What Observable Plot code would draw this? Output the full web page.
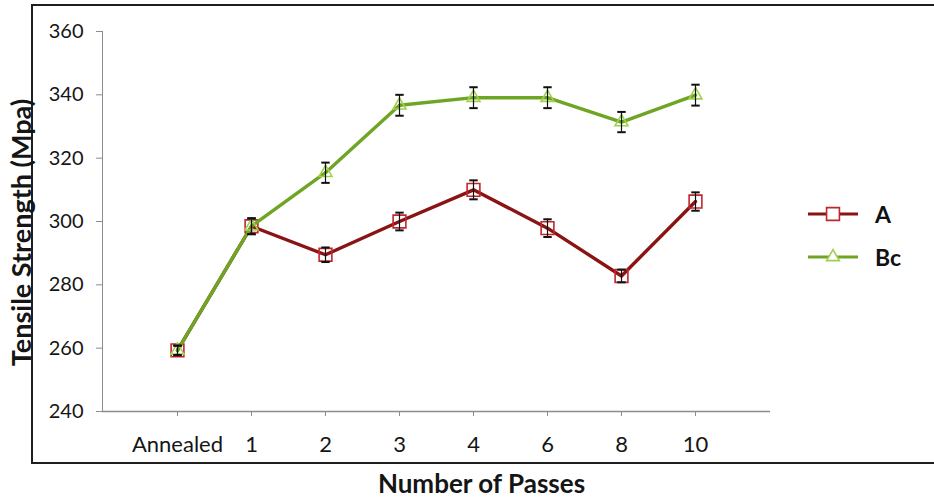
<!DOCTYPE html>
<html>
<head>
<meta charset="utf-8">
<script src="https://cdn.jsdelivr.net/npm/d3@7"></script>
<script src="https://cdn.jsdelivr.net/npm/@observablehq/plot@0.6"></script>
<style>
  html, body { margin: 0; padding: 0; background: #fff; }
  #wrap { position: relative; width: 934px; height: 499px; overflow: hidden; background: #fff; }
  #box { position: absolute; left: 31px; top: 4px; width: 1000px; height: 460px;
         border: 2.5px solid #1e1e1e; border-right: none; box-sizing: border-box; }
  #chart { position: absolute; left: 0; top: 0; }
  #chart svg text { fill: #151515; }
  #chart svg g[aria-label="x-axis tick label"] { font-size: 22px; }
  #legend { position: absolute; left: 808px; top: 203px; font-family: Lato, sans-serif;
            font-weight: bold; font-size: 23px; color: #111; }
  .row { display: flex; align-items: center; height: 22px; margin-bottom: 21px; }
  .row svg { display: block; margin-right: 17px; }
</style>
</head>
<body>
<div id="wrap">
  <div id="box"></div>
  <div id="chart"></div>
  <div id="legend"></div>
</div>
<script>
// ---- data ----
const passes = ["Annealed", "1", "2", "3", "4", "6", "8", "10"];
const strengthA  = [259.3, 298.5, 289.5, 300.0, 310.0, 297.9, 282.8, 306.3];
const errA       = [1.5, 2.5, 2.3, 2.8, 3.0, 2.8, 2.0, 2.9];
const strengthBc = [259.3, 298.5, 315.4, 336.7, 339.1, 339.1, 331.4, 339.9];
const errBc      = [1.5, 2.5, 3.2, 3.3, 3.3, 3.3, 3.2, 3.3];
const seriesNames = ["A", "Bc"];
const yTicks = [240, 260, 280, 300, 320, 340, 360];
const xTitle = "Number of Passes";
const yTitle = "Tensile Strength (Mpa)";

const colA = {line: "#8a1414", marker: "#c0272d"};
const colBc = {line: "#6fa524", marker: "#a3cf4e"};

const rowsA = passes.map((p, i) => ({pass: p, v: strengthA[i], e: errA[i]}));
const rowsBc = passes.map((p, i) => ({pass: p, v: strengthBc[i], e: errBc[i]}));
const caps = [...rowsA, ...rowsBc].flatMap(d => [{pass: d.pass, y: d.v - d.e}, {pass: d.pass, y: d.v + d.e}]);

const capSymbol = {
  draw(ctx, size) {
    const r = Math.sqrt(size / Math.PI);
    ctx.moveTo(-r, 0); ctx.lineTo(r, 0);
  }
};

const chart = Plot.plot({
  width: 934,
  height: 499,
  marginLeft: 102,
  marginRight: 164,
  marginTop: 31,
  marginBottom: 88,
  style: {fontFamily: "Lato, sans-serif", fontSize: "20px", color: "#8c8c8c", background: "transparent", overflow: "visible"},
  x: {type: "point", domain: passes, padding: 1, label: null, tickSize: 5, tickPadding: 20},
  y: {domain: [240, 360], ticks: yTicks, label: null, tickSize: 6, tickPadding: 13, line: true},
  marks: [
    Plot.ruleY([240], {stroke: "#8c8c8c", strokeWidth: 1.5}),
    Plot.line(rowsA, {x: "pass", y: "v", stroke: colA.line, strokeWidth: 3.4}),
    Plot.dot(rowsA, {x: "pass", y: "v", symbol: "square", r: 7.2, stroke: colA.marker, strokeWidth: 1.6, fill: "none"}),
    Plot.line(rowsBc, {x: "pass", y: "v", stroke: colBc.line, strokeWidth: 3.4}),
    Plot.dot(rowsBc, {x: "pass", y: "v", symbol: "triangle", r: 4.8, stroke: colBc.marker, strokeWidth: 1.6, fill: "none"}),
    Plot.ruleX([...rowsA, ...rowsBc], {x: "pass", y1: d => d.v - d.e, y2: d => d.v + d.e, stroke: "#111", strokeWidth: 1.2}),
    Plot.dot(caps, {x: "pass", y: "y", symbol: capSymbol, r: 4.2, stroke: "#111", strokeWidth: 2, fill: "none"}),
    Plot.text([yTitle], {frameAnchor: "left", textAnchor: "middle", lineAnchor: "middle", rotate: -90, dx: -80, dy: 11, fontSize: 27, fontWeight: "bold", fill: "#111"}),
    Plot.text([xTitle], {frameAnchor: "bottom", textAnchor: "middle", lineAnchor: "middle", dx: 45, dy: 73, fontSize: 26, fontWeight: "bold", fill: "#111"})
  ]
});
document.getElementById("chart").appendChild(chart);

// ---- legend ----
const legend = document.getElementById("legend");
const legendDefs = [
  {name: seriesNames[0], col: colA, sym: d3.symbolSquare, size: 165},
  {name: seriesNames[1], col: colBc, sym: d3.symbolTriangle, size: 70}
];
for (const L of legendDefs) {
  const row = document.createElement("div");
  row.className = "row";
  const path = d3.symbol(L.sym, L.size)();
  row.innerHTML = `<svg width="50" height="22"><line x1="0" x2="50" y1="11" y2="11" stroke="${L.col.line}" stroke-width="3.2"/>` +
    `<path d="${path}" transform="translate(25,11)" fill="#fff" stroke="${L.col.marker}" stroke-width="1.6"/></svg><span>${L.name}</span>`;
  legend.appendChild(row);
}
</script>
</body>
</html>
